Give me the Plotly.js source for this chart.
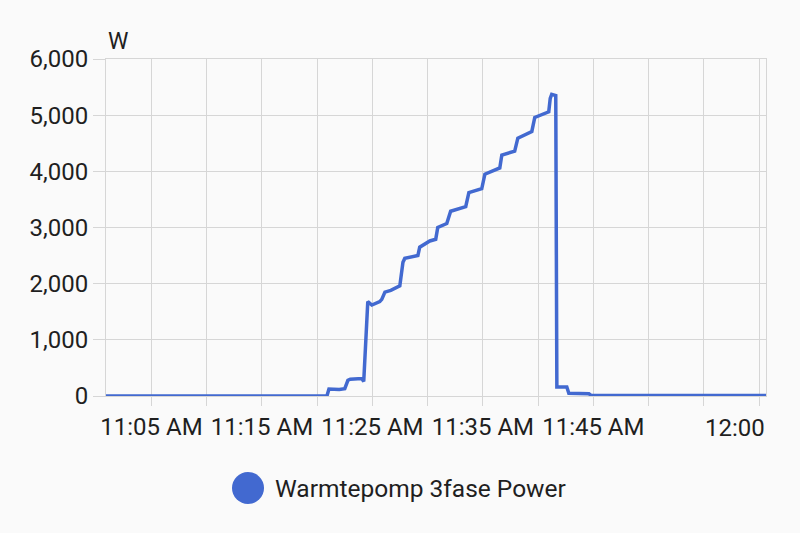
<!DOCTYPE html>
<html><head><meta charset="utf-8">
<script src="https://cdn.plot.ly/plotly-3.0.1.min.js"></script>
<style>body{margin:0;background:#fafafa}</style></head>
<body><div id="chart" style="width:800px;height:533px"></div>
<script>
const day = '2024-01-01 ';
const timeLabels = ['11:00:53','11:20:53','11:21:04','11:22:00','11:22:30','11:22:47','11:23:00','11:24:02','11:24:13','11:24:35','11:24:57','11:25:40','11:25:51','11:26:08','11:26:40','11:27:29','11:27:46','11:27:56','11:29:07','11:29:17','11:30:12','11:30:44','11:30:55','11:31:44','11:32:05','11:33:27','11:33:44','11:34:54','11:35:11','11:36:32','11:36:43','11:37:53','11:38:10','11:39:26','11:39:42','11:40:58','11:41:06','11:41:14','11:41:36','11:41:42','11:42:36','11:42:47','11:44:36','11:44:46','12:00:38'];
const powerW = [0,0,125,115,130,280,300,310,260,1680,1620,1680,1720,1850,1880,1960,2380,2450,2500,2650,2760,2790,3000,3070,3290,3370,3620,3690,3950,4060,4290,4360,4590,4710,4960,5060,5300,5370,5350,160,160,50,40,15,10];
const xTicks = ['11:05','11:10','11:15','11:20','11:25','11:30','11:35','11:40','11:45','11:50','11:55','12:00'];
const xTickText = ['11:05 AM','','11:15 AM','','11:25 AM','','11:35 AM','','11:45 AM','','',''];
const lastTickText = '12:00';
const yTicks = [0,1000,2000,3000,4000,5000,6000];
const seriesName = 'Warmtepomp 3fase Power';
const unit = 'W';

const blue = '#4269d0', grid = '#d6d6d6', txt = '#1f1f1f';
const font = 'Roboto, sans-serif';
const trace = {
  x: timeLabels.map(t => day + t), y: powerW, type: 'scatter', mode: 'lines',
  line: {color: blue, width: 3.5}, cliponaxis: false, showlegend: false, hoverinfo: 'skip'
};
const layout = {
  width: 800, height: 533, paper_bgcolor: '#fafafa', plot_bgcolor: '#fafafa',
  margin: {l: 106, r: 34, t: 59, b: 137},
  font: {family: font, color: txt, size: 24},
  showlegend: false,
  xaxis: {type: 'date', range: [day + '11:00:53', day + '12:00:38'],
    tickmode: 'array', tickvals: xTicks.map(t => day + t), ticktext: xTickText,
    showgrid: true, gridcolor: grid, gridwidth: 1, ticks: 'outside', ticklen: 9, tickcolor: grid,
    showline: true, mirror: true, linecolor: grid, zeroline: false, tickfont: {size: 24, color: txt}},
  yaxis: {range: [0, 6000], tickmode: 'array', tickvals: yTicks, tickformat: ',',
    showgrid: true, gridcolor: grid, ticks: 'outside', ticklen: 12, tickcolor: grid,
    showline: true, mirror: true, linecolor: grid, zeroline: false, tickfont: {size: 24, color: txt}},
  annotations: [
    {text: unit, xref: 'paper', yref: 'paper', x: 0, y: 1, xanchor: 'left', yanchor: 'bottom', yshift: 2, showarrow: false, font: {size: 23, color: txt}},
    {text: lastTickText, xref: 'x', yref: 'paper', x: day + xTicks[xTicks.length-1], y: 0, xanchor: 'right', yanchor: 'middle', xshift: 8, yshift: -32, showarrow: false, font: {size: 24, color: txt}},
    {text: seriesName, xref: 'paper', yref: 'paper', x: (273-106)/660, y: (396-488)/337, xanchor: 'left', yanchor: 'middle', showarrow: false, font: {size: 24.5, color: txt}}
  ],
  shapes: [
    {type: 'circle', xref: 'paper', yref: 'paper', xsizemode: 'pixel', ysizemode: 'pixel',
     xanchor: (248-106)/660, yanchor: (396-488)/337, x0: -16, x1: 16, y0: -16, y1: 16,
     fillcolor: blue, line: {width: 0}}
  ]
};
Plotly.newPlot('chart', [trace], layout, {staticPlot: true, displayModeBar: false});
</script></body></html>
